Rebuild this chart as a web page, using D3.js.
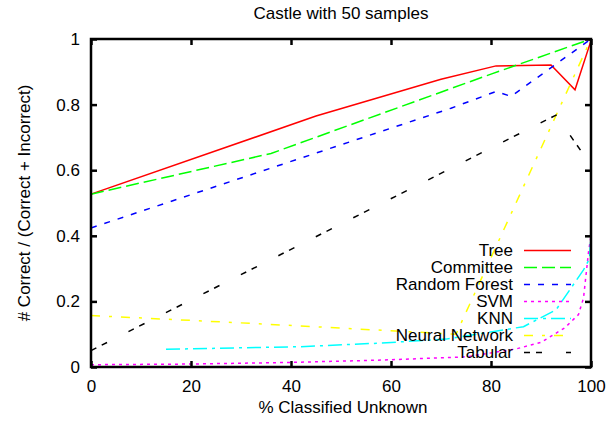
<!DOCTYPE html>
<html><head><meta charset="utf-8">
<script src="https://cdn.jsdelivr.net/npm/d3@7"></script>
<style>
html,body{margin:0;padding:0;background:#fff;}
svg{display:block;font-family:"Liberation Sans",Arial,sans-serif;}
</style></head>
<body><svg id="c" width="615" height="421"></svg>
<script>
const title = "Castle with 50 samples";
const xLabel = "% Classified Unknown";
const yLabel = "# Correct / (Correct + Incorrect)";
const xTicks = [0, 20, 40, 60, 80, 100];
const yTicks = [0, 0.2, 0.4, 0.6, 0.8, 1];
const yTickLabels = ["0", "0.2", "0.4", "0.6", "0.8", "1"];

const seriesNames = ["Tree", "Committee", "Random Forest", "SVM", "KNN", "Neural Network", "Tabular"];
const treeX = [0, 45, 70, 81, 92, 96.8, 100];
const treeY = [0.527, 0.765, 0.877, 0.918, 0.921, 0.845, 0.995];
const committeeX = [0, 36, 80, 100];
const committeeY = [0.527, 0.651, 0.893, 1.0];
const forestX = [0, 72, 81, 84, 100];
const forestY = [0.424, 0.789, 0.84, 0.825, 1.0];
const svmX = [0, 20, 40, 58, 75, 85, 90, 94.8, 97.5, 98.5, 99.5, 100];
const svmY = [0.007, 0.009, 0.014, 0.021, 0.031, 0.055, 0.075, 0.12, 0.16, 0.21, 0.35, 0.40];
const knnX = [15, 42, 58, 71, 86.5, 93, 98.5, 99.7, 100];
const knnY = [0.054, 0.062, 0.073, 0.085, 0.123, 0.174, 0.296, 0.33, 0.40];
const neuralX = [0, 32, 73, 100];
const neuralY = [0.157, 0.133, 0.1, 1.0];
const tabularX = [0, 93, 100];
const tabularY = [0.05, 0.768, 0.615];

const colors = ["#ff0000", "#00ff00", "#0000ff", "#ff00ff", "#00ffff", "#ffff00", "#000000"];
const dashes = [null, "13,5", "6,8", "3,4", "14,5,3,5", "9,9,3,9", "6,6,6,24"];
const xs = [treeX, committeeX, forestX, svmX, knnX, neuralX, tabularX];
const ys = [treeY, committeeY, forestY, svmY, knnY, neuralY, tabularY];

const W = 615, H = 421;
const L = 91, R = 591, T = 39, B = 367;
const FS = 17;
const svg = d3.select("#c");
const x = d3.scaleLinear().domain([0, 100]).range([L, R]);
const y = d3.scaleLinear().domain([0, 1]).range([B, T]);

// series
const line = d3.line().x(d => x(d[0])).y(d => y(d[1]));
const plot = svg.append("g");
seriesNames.forEach((n, i) => {
  const pts = xs[i].map((v, j) => [v, ys[i][j]]);
  plot.append("path").attr("d", line(pts)).attr("fill", "none")
    .attr("stroke", colors[i]).attr("stroke-width", 1.5)
    .attr("stroke-dasharray", dashes[i]);
});

// axes
function styleAxis(g, labels) {
  g.select(".domain").remove();
  g.selectAll(".tick line").attr("stroke", "#000").attr("stroke-width", 2.5);
  g.selectAll(".tick text").attr("font-size", FS).attr("fill", "#000")
    .attr("font-family", "Liberation Sans, Arial, sans-serif");
  if (!labels) g.selectAll(".tick text").remove();
}
svg.append("g").attr("transform", `translate(0,${B})`)
  .call(d3.axisBottom(x).tickValues(xTicks).tickSize(-6).tickPadding(13).tickFormat(d3.format("d")))
  .call(g => styleAxis(g, true));
svg.append("g").attr("transform", `translate(0,${T})`)
  .call(d3.axisTop(x).tickValues(xTicks).tickSize(-6))
  .call(g => styleAxis(g, false));
svg.append("g").attr("transform", `translate(${L},0)`)
  .call(d3.axisLeft(y).tickValues(yTicks).tickSize(-6).tickPadding(11).tickFormat((d, i) => yTickLabels[i]))
  .call(g => styleAxis(g, true));
svg.append("g").attr("transform", `translate(${R},0)`)
  .call(d3.axisRight(y).tickValues(yTicks).tickSize(-6))
  .call(g => styleAxis(g, false));

// frame
svg.append("rect").attr("x", L).attr("y", T).attr("width", R - L).attr("height", B - T)
  .attr("fill", "none").attr("stroke", "#000").attr("stroke-width", 2.5);

// legend
const lg = svg.append("g");
seriesNames.forEach((n, i) => {
  const ly = 250.5 + i * 17;
  lg.append("text").attr("x", 513).attr("y", ly).attr("dy", "0.35em")
    .attr("text-anchor", "end").attr("font-size", FS).text(n);
  lg.append("line").attr("x1", 524).attr("x2", 571).attr("y1", ly).attr("y2", ly)
    .attr("stroke", colors[i]).attr("stroke-width", 1.5).attr("stroke-dasharray", dashes[i]);
});

// titles
svg.append("text").attr("x", (L + R) / 2).attr("y", 18.5).attr("text-anchor", "middle")
  .attr("font-size", FS).text(title);
svg.append("text").attr("x", (L + R) / 2 + 2).attr("y", 413).attr("text-anchor", "middle")
  .attr("font-size", FS).text(xLabel);
svg.append("text").attr("transform", `translate(30,${(T + B) / 2}) rotate(-90)`)
  .attr("text-anchor", "middle").attr("font-size", FS).text(yLabel);
</script></body></html>
